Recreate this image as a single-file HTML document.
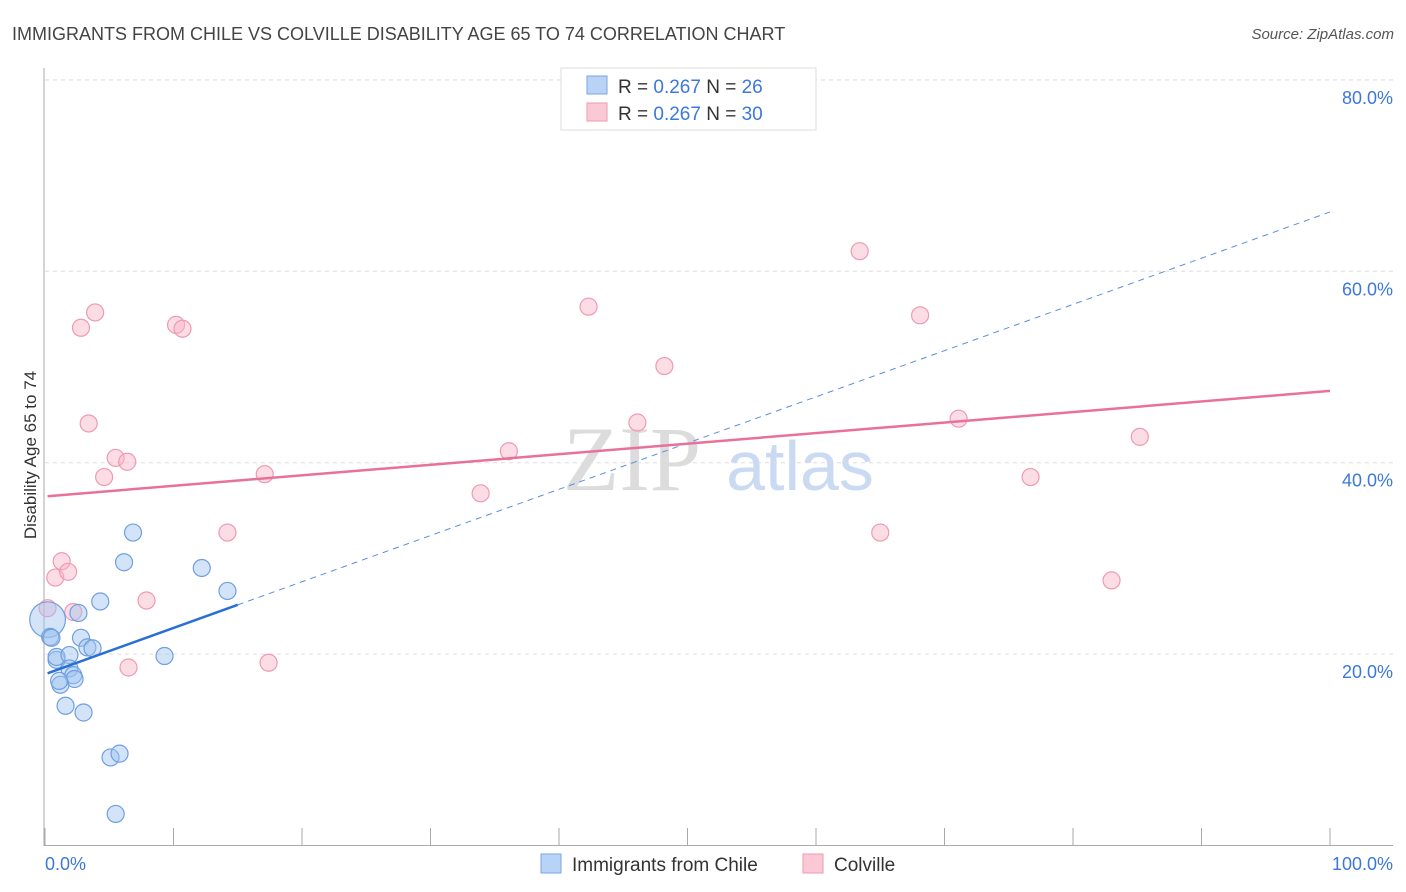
<!DOCTYPE html>
<html><head><meta charset="utf-8"><style>
body{margin:0;background:#fff;font-family:"Liberation Sans",sans-serif;}
svg{display:block}
</style></head><body>
<svg width="1406" height="892" viewBox="0 0 1406 892">
<text x="12" y="40" font-size="18" fill="#444">IMMIGRANTS FROM CHILE VS COLVILLE DISABILITY AGE 65 TO 74 CORRELATION CHART</text>
<text x="1394" y="39" font-size="15" fill="#555" font-style="italic" text-anchor="end">Source: ZipAtlas.com</text>
<g>
<text x="632" y="490" font-size="92" font-family="Liberation Serif,serif" fill="#dcdcdc" text-anchor="middle">ZIP</text>
<text x="800" y="490" font-size="70" fill="#c9daf2" text-anchor="middle">atlas</text>
</g>
<g id="grid"></g>
<g id="axes"></g>
<g id="marks"></g>
<text x="36" y="455" font-size="17" fill="#333" text-anchor="middle" transform="rotate(-90 36 455)">Disability Age 65 to 74</text>
<g>
<rect x="561" y="68" width="255" height="62" fill="#fff" stroke="#ddd"/>
<rect x="587" y="76" width="20" height="18" fill="#b8d3f5" stroke="#7aa6e0"/>
<rect x="587" y="103" width="20" height="18" fill="#fbc8d6" stroke="#ee9ab2"/>
<text x="618" y="93" font-size="19" fill="#333">R = <tspan fill="#3b78d8">0.267</tspan>   N = <tspan fill="#3b78d8">26</tspan></text>
<text x="618" y="120" font-size="19" fill="#333">R = <tspan fill="#3b78d8">0.267</tspan>   N = <tspan fill="#3b78d8">30</tspan></text>
</g>
<g>
<rect x="541" y="854" width="20" height="19" fill="#b8d3f5" stroke="#7aa6e0"/>
<text x="572" y="871" font-size="19" fill="#333">Immigrants from Chile</text>
<rect x="803" y="854" width="20" height="19" fill="#fbc8d6" stroke="#ee9ab2"/>
<text x="834" y="871" font-size="19" fill="#333">Colville</text>
</g>
</svg>
<script>
const blueX=[6.85,6.15,12.2,14.2,4.3,2.6,0.2,0.4,0.5,2.8,3.3,3.7,9.3,0.9,0.9,1.9,1.9,2.2,2.3,1.2,1.1,1.6,3.0,5.1,5.8,5.5];
const blueY=[32.7,29.6,29.0,26.6,25.5,24.3,23.6,21.8,21.7,21.7,20.7,20.6,19.8,19.4,19.7,19.9,18.5,17.8,17.4,16.8,17.2,14.6,13.9,9.2,9.6,3.3];
const blueSize=[1,1,1,1,1,1,2.1,1,1,1,1,1,1,1,1,1,1,1,1,1,1,1,1,1,1,1];
const pinkX=[0.2,1.3,0.8,1.8,2.2,3.9,2.8,10.2,10.7,3.4,5.5,6.4,4.6,7.9,6.5,17.1,14.2,17.4,36.1,33.9,42.3,48.2,46.1,63.4,68.1,71.1,65.0,76.7,83.0,85.2];
const pinkY=[24.8,29.7,28.0,28.6,24.4,55.7,54.1,54.4,54.0,44.1,40.5,40.1,38.5,25.6,18.6,38.8,32.7,19.1,41.2,36.8,56.3,50.1,44.2,62.1,55.4,44.6,32.7,38.5,27.7,42.7];
const blueTrend=[17.9,66.2];
const pinkTrend=[36.5,47.5];
const yTicks=[20,40,60,80];
const yTickLabels=["20.0%","40.0%","60.0%","80.0%"];
const xTicks=[0,10,20,30,40,50,60,70,80,90,100];
const NS="http://www.w3.org/2000/svg";
const sx=v=>45+v*12.85, sy=v=>845.5-v*9.57;
function mk(tag,attrs,parent){const e=document.createElementNS(NS,tag);for(const k in attrs)e.setAttribute(k,attrs[k]);parent.appendChild(e);return e;}
const grid=document.getElementById('grid'),axes=document.getElementById('axes'),marks=document.getElementById('marks');
yTicks.forEach((t,i)=>{
 const l=mk('line',{x1:45,x2:1393,y1:sy(t),y2:sy(t),stroke:'#ddd','stroke-dasharray':'4 4'},grid);
 
 
 const tx=mk('text',{x:1393,y:sy(t)+24,'font-size':18,fill:'#3b78d8','text-anchor':'end'},axes);
 tx.textContent=yTickLabels[i];
 
 
});
mk('line',{x1:45,x2:1393,y1:80,y2:80,stroke:'#ddd','stroke-dasharray':'4 4'},grid);
mk('line',{x1:44,x2:44,y1:68,y2:846,stroke:'#aaa'},axes);
mk('line',{x1:44,x2:1393,y1:845.5,y2:845.5,stroke:'#aaa'},axes);
xTicks.forEach(t=>{
 const l=mk('line',{x1:sx(t),x2:sx(t),y1:828,y2:846,stroke:'#aaa'},axes);
 
 
});
const x0=mk('text',{x:45,y:870,'font-size':18,fill:'#3b78d8'},axes);x0.textContent='0.0%';


const x1=mk('text',{x:1393,y:870,'font-size':18,fill:'#3b78d8','text-anchor':'end'},axes);x1.textContent='100.0%';


// points
pinkX.forEach((x,i)=>{
 const c=mk('circle',{cx:sx(x),cy:sy(pinkY[i]),r:8.5,fill:'rgba(248,180,200,0.45)',stroke:'#ee9ab2','stroke-width':1.2},marks);
 
 
});
blueX.forEach((x,i)=>{
 const c=mk('circle',{cx:sx(x),cy:sy(blueY[i]),r:8.5*blueSize[i],fill:'rgba(160,195,240,0.45)',stroke:'#6f9fe0','stroke-width':1.2},marks);
 
 
});
// trend lines
const bAt=v=>blueTrend[0]+(blueTrend[1]-blueTrend[0])*v/100;
const bd=mk('line',{x1:sx(15),y1:sy(bAt(15)),x2:sx(100),y2:sy(bAt(100)),stroke:'#5a8fdc','stroke-width':1,'stroke-dasharray':'6 5'},marks);


const bs=mk('line',{x1:sx(0.2),y1:sy(bAt(0.2)),x2:sx(15),y2:sy(bAt(15)),stroke:'#2a6fd6','stroke-width':2.5},marks);


const ps=mk('line',{x1:sx(0.2),y1:sy(pinkTrend[0]),x2:sx(100),y2:sy(pinkTrend[1]),stroke:'#e8719a','stroke-width':2.5},marks);


</script>
</body></html>
